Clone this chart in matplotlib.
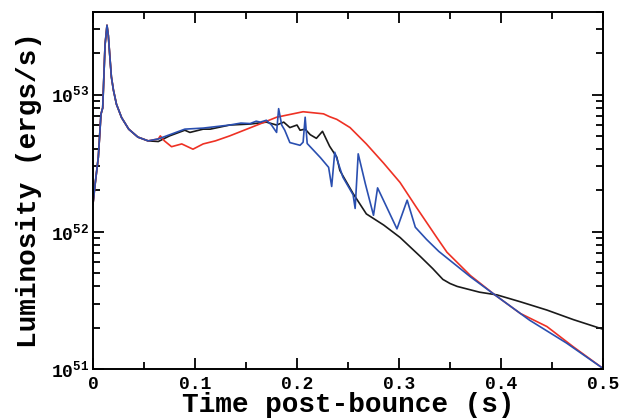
import numpy as np
import matplotlib
matplotlib.use("Agg")
import matplotlib.pyplot as plt
from matplotlib.ticker import LogLocator, MultipleLocator, FixedLocator, NullFormatter

# Luminosity values in units of 1e52 erg/s
# early part (bounce peak) is shared by the three runs
t_early = [0.0, 0.002, 0.0052, 0.0078, 0.0095, 0.0118, 0.0137, 0.0150, 0.0165, 0.018,
           0.020, 0.023, 0.028, 0.035, 0.044, 0.054]
L_early = [1.6, 2.2, 3.5, 7.2, 8.0, 23.0, 32.0, 27.0, 19.0, 13.5,
           10.8, 8.5, 6.8, 5.6, 4.9, 4.6]

t_black = [0.064, 0.075, 0.090, 0.095, 0.108, 0.115, 0.134, 0.154, 0.170, 0.180,
           0.187, 0.193, 0.200, 0.203, 0.208, 0.213, 0.219, 0.225, 0.232, 0.239,
           0.242, 0.255, 0.268, 0.285, 0.301, 0.321, 0.333, 0.343, 0.350, 0.357,
           0.379, 0.396, 0.419, 0.445, 0.471, 0.500]
L_black = [4.55, 5.0, 5.5, 5.3, 5.6, 5.6, 6.0, 6.1, 6.3, 6.0,
           6.3, 5.75, 6.0, 5.5, 5.6, 5.1, 4.8, 5.4, 4.2, 3.5,
           2.8, 1.9, 1.35, 1.12, 0.91, 0.66, 0.54, 0.45, 0.42, 0.40,
           0.363, 0.347, 0.309, 0.269, 0.229, 0.195]

t_red = [0.064, 0.066, 0.070, 0.077, 0.087, 0.098, 0.108, 0.120, 0.134, 0.160,
         0.180, 0.206, 0.226, 0.232, 0.239, 0.252, 0.268, 0.285, 0.301, 0.317,
         0.337, 0.347, 0.370, 0.394, 0.419, 0.445, 0.471, 0.500]
L_red = [4.75, 5.0, 4.6, 4.17, 4.37, 4.0, 4.37, 4.6, 5.0, 5.96,
         6.84, 7.5, 7.24, 6.9, 6.6, 5.75, 4.37, 3.16, 2.29, 1.51,
         0.91, 0.71, 0.48, 0.347, 0.254, 0.204, 0.145, 0.101]

t_blue = [0.064, 0.090, 0.108, 0.134, 0.145, 0.154, 0.160, 0.164, 0.170, 0.175,
          0.180, 0.182, 0.185, 0.188, 0.193, 0.203, 0.206, 0.208, 0.210, 0.223,
          0.231, 0.234, 0.237, 0.245, 0.255, 0.257, 0.260, 0.267, 0.275, 0.279,
          0.288, 0.298, 0.308, 0.316, 0.327, 0.339, 0.370, 0.394, 0.428, 0.464,
          0.500]
L_blue = [4.75, 5.6, 5.7, 6.0, 6.2, 6.15, 6.4, 6.3, 6.5, 6.0,
          5.3, 7.9, 6.0, 5.5, 4.47, 4.27, 4.5, 6.84, 4.4, 3.47,
          2.95, 2.14, 3.8, 2.5, 1.86, 1.48, 3.7, 2.24, 1.32, 2.09,
          1.51, 1.05, 1.70, 1.08, 0.88, 0.72, 0.47, 0.347, 0.227, 0.155,
          0.101]

x_ticks = [0, 0.1, 0.2, 0.3, 0.4, 0.5]
x_ticklabels = ["0", "0.1", "0.2", "0.3", "0.4", "0.5"]
y_ticks = [1e51, 1e52, 1e53]
y_ticklabels = [r"$10^{51}$", r"$10^{52}$", r"$10^{53}$"]

plt.rcParams["font.family"] = "Liberation Mono"
plt.rcParams["font.weight"] = "bold"
plt.rcParams["mathtext.fontset"] = "custom"
plt.rcParams["mathtext.rm"] = "Liberation Mono:bold"
plt.rcParams["mathtext.it"] = "Liberation Mono:bold"
plt.rcParams["mathtext.bf"] = "Liberation Mono:bold"

fig = plt.figure(figsize=(6.31, 4.19), dpi=100)
ax = fig.add_axes([0.1474, 0.1193, 0.8082, 0.8521])

scale = 1e52
ax.plot(np.array(t_early + t_black), np.array(L_early + L_black) * scale, color="#1a1a1a", lw=1.2)
ax.plot(np.array(t_early + t_red), np.array(L_early + L_red) * scale, color="#ee3124", lw=1.2)
ax.plot(np.array(t_early + t_blue), np.array(L_early + L_blue) * scale, color="#2a4fb0", lw=1.2)

ax.set_yscale("log")
ax.set_xlim(0, 0.5)
ax.set_ylim(1e51, 4e53)

ax.xaxis.set_major_locator(FixedLocator(x_ticks))
ax.set_xticklabels(x_ticklabels)
ax.xaxis.set_minor_locator(MultipleLocator(0.05))
ax.yaxis.set_major_locator(FixedLocator(y_ticks))
ax.set_yticklabels(y_ticklabels)
ax.yaxis.set_minor_locator(LogLocator(base=10, subs=np.arange(2, 10)))
ax.yaxis.set_minor_formatter(NullFormatter())

ax.tick_params(which="both", direction="in", top=True, right=True, width=1.3)
ax.tick_params(which="major", length=8, labelsize=13, pad=3)
ax.tick_params(which="minor", length=5)
ax.tick_params(axis="x", which="major", pad=5)
for s in ax.spines.values():
    s.set_linewidth(1.4)

ax.set_xlabel("Time post-bounce (s)", fontsize=20, fontweight="bold", labelpad=-1)
ax.set_ylabel("Luminosity (ergs/s)", fontsize=20, fontweight="bold", labelpad=6)

plt.savefig("out.png", dpi=100)
plt.close()
